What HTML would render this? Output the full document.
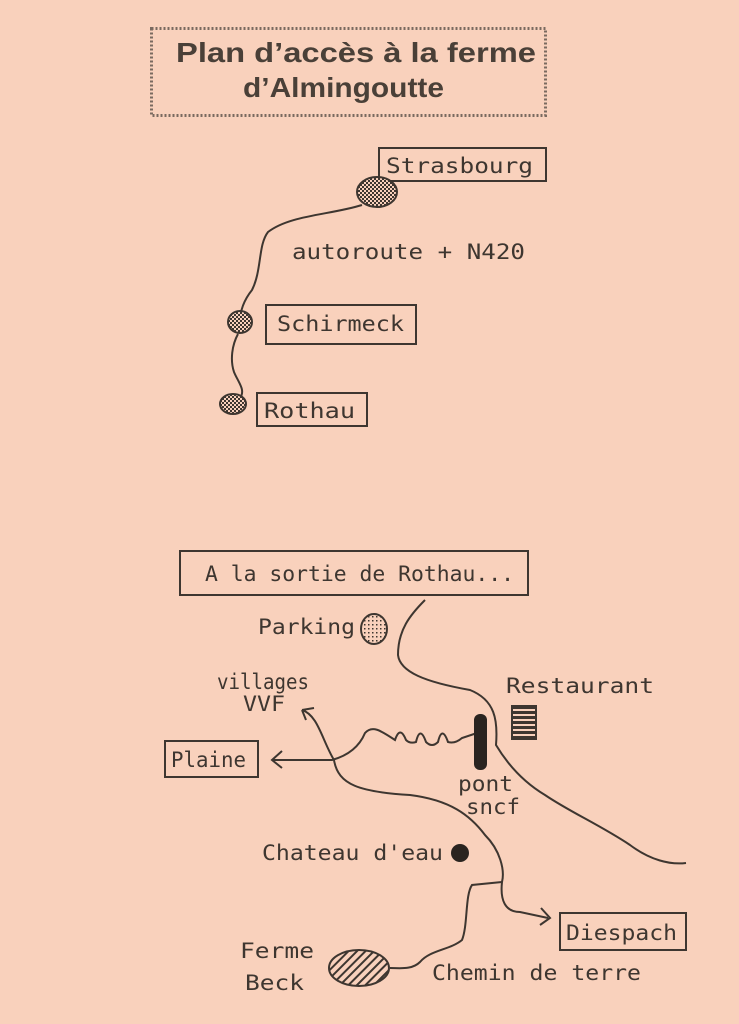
<!DOCTYPE html>
<html><head><style>
html,body{margin:0;padding:0;background:#f9d1bc;}
svg{display:block}
text{font-family:"DejaVu Sans Mono","Liberation Mono",monospace;fill:#3e3630;font-size:21px}
.t{font-family:"Liberation Sans",sans-serif;font-weight:bold;font-size:28px;fill:#4a4038}
</style></head><body>
<svg width="739" height="1024" viewBox="0 0 739 1024" xmlns="http://www.w3.org/2000/svg">
<defs>
<pattern id="ch" width="4" height="4" patternUnits="userSpaceOnUse"><rect width="4" height="4" fill="#f9d1bc"/><rect width="2" height="2" fill="#3e3630"/><rect x="2" y="2" width="2" height="2" fill="#3e3630"/></pattern>
<pattern id="dt" width="4" height="4" patternUnits="userSpaceOnUse"><rect width="4" height="4" fill="#f9d1bc"/><rect width="1.5" height="1.5" fill="#3e3630"/></pattern>
<pattern id="hs" width="6" height="6" patternUnits="userSpaceOnUse" patternTransform="rotate(-45)"><rect width="6" height="6" fill="#f9d1bc"/><rect width="6" height="2" fill="#3e3630"/></pattern>
</defs>
<g fill="none" stroke="#3e3630">
<rect x="151.5" y="28.5" width="394" height="87" stroke="#7a6a60" stroke-width="3" stroke-dasharray="2 2"/>
<rect x="379" y="148" width="167" height="33" stroke-width="2"/>
<rect x="266" y="305" width="150" height="39" stroke-width="2"/>
<rect x="257" y="393" width="110" height="33" stroke-width="2"/>
<rect x="180" y="551" width="348" height="44" stroke-width="2"/>
<rect x="165" y="741" width="93" height="36" stroke-width="2"/>
<rect x="560" y="913" width="126" height="37" stroke-width="2"/>
<path stroke-width="2" d="M362,205 C330,215 290,215 268,232 C258,245 262,270 252,290 C244,300 240,310 240,322 M238,334 C232,345 230,360 234,372 C238,382 246,390 240,398"/>
<path stroke-width="2" d="M425,600 C410,615 398,630 398,655 C400,672 425,682 470,690 C495,700 498,720 496,745 C505,760 520,780 545,795 C570,812 600,825 630,845 C650,860 670,865 686,863"/>
<path stroke-width="2" d="M272,760 L332,760 C350,755 360,745 365,733 C372,725 380,730 395,740 Q400,725 406,740 Q410,744 416,742 Q420,725 426,742 Q432,748 438,742 Q442,725 448,742 Q455,744 462,738 L480,732"/>
<path stroke-width="2" d="M282,751 L272,760 L282,768"/>
<path stroke-width="2" d="M302,710 C318,715 322,740 334,760 C338,785 360,792 410,795 C450,800 470,815 485,835 C500,850 505,870 502,882 C500,900 505,912 520,912 L548,918"/>
<path stroke-width="2" d="M302,710 L314,708 M302,710 L306,720"/>
<path stroke-width="2" d="M541,908 L550,918 L540,925"/>
<path stroke-width="2" d="M502,882 L472,885 C465,895 468,925 462,940 C450,950 430,950 420,962 C412,970 400,968 390,968"/>
</g>
<ellipse cx="377" cy="192" rx="20" ry="15" fill="url(#ch)" stroke="#3e3630" stroke-width="2"/>
<ellipse cx="240" cy="322" rx="12" ry="11" fill="url(#ch)" stroke="#3e3630" stroke-width="2"/>
<ellipse cx="233" cy="404" rx="13" ry="10" fill="url(#ch)" stroke="#3e3630" stroke-width="2"/>
<ellipse cx="374" cy="629" rx="13" ry="15" fill="url(#dt)" stroke="#3e3630" stroke-width="2"/>
<ellipse cx="359" cy="968" rx="30" ry="18" fill="url(#hs)" stroke="#3e3630" stroke-width="2"/>
<rect x="511" y="705" width="26" height="35" fill="#3e3630"/>
<g stroke="#f9d1bc" stroke-width="2"><line x1="513" y1="710" x2="535" y2="710"/><line x1="513" y1="715" x2="535" y2="715"/><line x1="513" y1="720" x2="535" y2="720"/><line x1="513" y1="725" x2="535" y2="725"/><line x1="513" y1="730" x2="535" y2="730"/><line x1="513" y1="735" x2="535" y2="735"/></g>
<rect x="474" y="714" width="13" height="56" rx="6" fill="#2a2420"/>
<circle cx="460" cy="853" r="9" fill="#2a2420"/>
<text class="t" x="176" y="62" textLength="360" lengthAdjust="spacingAndGlyphs">Plan d’accès à la ferme</text>
<text class="t" x="243" y="97" textLength="201" lengthAdjust="spacingAndGlyphs">d’Almingoutte</text>
<text x="386" y="173" textLength="147" lengthAdjust="spacingAndGlyphs">Strasbourg</text>
<text x="292" y="259" textLength="233" lengthAdjust="spacingAndGlyphs">autoroute + N420</text>
<text x="277" y="331" textLength="127" lengthAdjust="spacingAndGlyphs">Schirmeck</text>
<text x="264" y="418" textLength="91" lengthAdjust="spacingAndGlyphs">Rothau</text>
<text x="205" y="581" textLength="309" lengthAdjust="spacingAndGlyphs">A la sortie de Rothau...</text>
<text x="258" y="634" textLength="97" lengthAdjust="spacingAndGlyphs">Parking</text>
<text x="217" y="689" textLength="92" lengthAdjust="spacingAndGlyphs">villages</text>
<text x="243" y="711" textLength="42" lengthAdjust="spacingAndGlyphs">VVF</text>
<text x="506" y="693" textLength="148" lengthAdjust="spacingAndGlyphs">Restaurant</text>
<text x="171" y="767" textLength="75" lengthAdjust="spacingAndGlyphs">Plaine</text>
<text x="458" y="791" textLength="55" lengthAdjust="spacingAndGlyphs">pont</text>
<text x="466" y="814" textLength="54" lengthAdjust="spacingAndGlyphs">sncf</text>
<text x="262" y="860" textLength="181" lengthAdjust="spacingAndGlyphs">Chateau d'eau</text>
<text x="566" y="940" textLength="111" lengthAdjust="spacingAndGlyphs">Diespach</text>
<text x="240" y="958" textLength="74" lengthAdjust="spacingAndGlyphs">Ferme</text>
<text x="245" y="990" textLength="59" lengthAdjust="spacingAndGlyphs">Beck</text>
<text x="432" y="980" textLength="209" lengthAdjust="spacingAndGlyphs">Chemin de terre</text>
</svg>
</body></html>
